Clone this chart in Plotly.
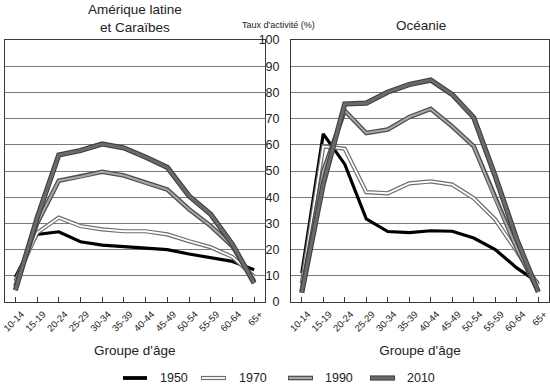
import plotly.graph_objects as go

age_groups = ["10-14", "15-19", "20-24", "25-29", "30-34", "35-39", "40-44",
              "45-49", "50-54", "55-59", "60-64", "65+"]
years = ["1950", "1970", "1990", "2010"]

# Amérique latine et Caraïbes
latam_1950 = [9.5, 25.8, 26.8, 23.0, 21.7, 21.2, 20.6, 20.0, 18.3, 17.0, 15.5, 12.3]
latam_1970 = [8.0, 26.4, 32.2, 29.0, 27.7, 27.0, 27.0, 25.8, 23.2, 20.9, 17.2, 9.7]
latam_1990 = [6.0, 30.0, 46.3, 47.8, 49.7, 48.3, 45.5, 42.9, 35.4, 29.0, 21.3, 7.8]
latam_2010 = [4.5, 32.0, 56.1, 57.8, 60.3, 58.8, 55.3, 51.4, 40.5, 33.5, 22.0, 7.2]

# Océanie
ocea_1950 = [11.0, 64.2, 52.6, 31.7, 26.9, 26.5, 27.2, 27.0, 24.4, 20.0, 13.0, 7.4]
ocea_1970 = [7.0, 59.4, 58.5, 41.9, 41.5, 45.3, 46.0, 44.8, 39.6, 31.5, 19.4, 6.5]
ocea_1990 = [4.0, 50.0, 73.0, 64.5, 65.8, 70.6, 73.7, 67.0, 59.4, 39.5, 20.5, 4.0]
ocea_2010 = [3.5, 45.0, 75.6, 75.9, 80.1, 83.0, 84.7, 79.2, 70.4, 48.0, 24.0, 3.8]

latam = [latam_1950, latam_1970, latam_1990, latam_2010]
ocea = [ocea_1950, ocea_1970, ocea_1990, ocea_2010]

# (outer color, outer width, inner color, inner width)
styles = [
    ("#000000", 3.2, None, 0),
    ("#6e6e6e", 4.2, "#ffffff", 1.8),
    ("#505050", 4.6, "#a8a8a8", 2.0),
    ("#404040", 5.2, "#6a6a6a", 3.0),
]

FONT = "Arial, Liberation Sans, sans-serif"
W, H = 550, 385

fig = go.Figure()
for panel, (data, xa, ya) in enumerate([(latam, "x", "y"), (ocea, "x2", "y2")]):
    for series, (oc, ow, ic, iw) in zip(data, styles):
        fig.add_trace(go.Scatter(x=age_groups, y=series, mode="lines",
                                 line=dict(color=oc, width=ow),
                                 xaxis=xa, yaxis=ya, showlegend=False,
                                 hoverinfo="skip"))
        if ic:
            fig.add_trace(go.Scatter(x=age_groups, y=series, mode="lines",
                                     line=dict(color=ic, width=iw),
                                     xaxis=xa, yaxis=ya, showlegend=False,
                                     hoverinfo="skip"))

axis_line = "#3a3a3a"
grid = "#7a7a7a"

def px_x(p):
    return p / W

def px_y(p):
    return 1 - p / H

y0, y1 = px_y(302), px_y(40)

xcommon = dict(type="category", categoryorder="array", categoryarray=age_groups,
               range=[-0.5, 11.5], ticks="inside", ticklen=5, tickcolor=axis_line,
               tickwidth=1, showline=True, linecolor=axis_line, linewidth=1,
               mirror=True, tickangle=-45, tickfont=dict(size=9.5, color="#222"),
               ticklabelshift=6, ticklabelstandoff=2,
               showgrid=False, fixedrange=True, automargin=False,
               title=dict(text="Groupe d'âge", font=dict(size=13.5, color="#222"),
                          standoff=12))
ycommon = dict(range=[0, 100], dtick=10, showgrid=True, gridcolor=grid,
               gridwidth=1, showline=True, linecolor=axis_line, linewidth=1,
               mirror=True, zeroline=False, fixedrange=True, automargin=False)

fig.update_layout(
    width=W, height=H,
    margin=dict(l=0, r=0, t=0, b=0, autoexpand=False),
    paper_bgcolor="white", plot_bgcolor="white",
    font=dict(family=FONT, color="#222"),
    showlegend=False,
    xaxis=dict(domain=[px_x(4.5), px_x(265)], anchor="y", **xcommon),
    xaxis2=dict(domain=[px_x(291), px_x(549)], anchor="y2", **xcommon),
    yaxis=dict(domain=[y0, y1], anchor="x", showticklabels=False, ticks="", **ycommon),
    yaxis2=dict(domain=[y0, y1], anchor="x2", showticklabels=True, ticks="",
                side="left", ticklabelstandoff=8,
                tickfont=dict(size=12.5, color="#222"), **ycommon),
)

annotations = [
    dict(text="Amérique latine<br>et Caraïbes", x=px_x(135), y=px_y(18),
         xref="paper", yref="paper", showarrow=False, font=dict(size=13.5),
         xanchor="center", yanchor="middle"),
    dict(text="Océanie", x=px_x(421), y=px_y(25),
         xref="paper", yref="paper", showarrow=False, font=dict(size=13.5),
         xanchor="center", yanchor="middle"),
    dict(text="Taux d'activité (%)", x=px_x(278), y=px_y(25),
         xref="paper", yref="paper", showarrow=False, font=dict(size=9),
         xanchor="center", yanchor="middle"),
]

# Custom legend (double-line symbols)
legend_pos = [(123, 147, 158), (201, 226, 237), (288, 313, 323), (370, 395, 405)]
shapes = []
ly = px_y(378)
for (xa_, xb_, xt), name, (oc, ow, ic, iw) in zip(legend_pos, years, styles):
    shapes.append(dict(type="line", xref="paper", yref="paper",
                       x0=px_x(xa_), x1=px_x(xb_), y0=ly, y1=ly,
                       line=dict(color=oc, width=ow + (0.6 if ic is None else 0))))
    if ic:
        shapes.append(dict(type="line", xref="paper", yref="paper",
                           x0=px_x(xa_ + 1), x1=px_x(xb_ - 1), y0=ly, y1=ly,
                           line=dict(color=ic, width=iw)))
    annotations.append(dict(text=name, x=px_x(xt), y=ly, xref="paper", yref="paper",
                            showarrow=False, xanchor="left", yanchor="middle",
                            font=dict(size=12.5)))

fig.update_layout(annotations=annotations, shapes=shapes)
fig.write_html("out.html",
               config={"displayModeBar": False},
               post_script="document.body.style.margin='0';"
                           "document.body.style.overflow='hidden';")
